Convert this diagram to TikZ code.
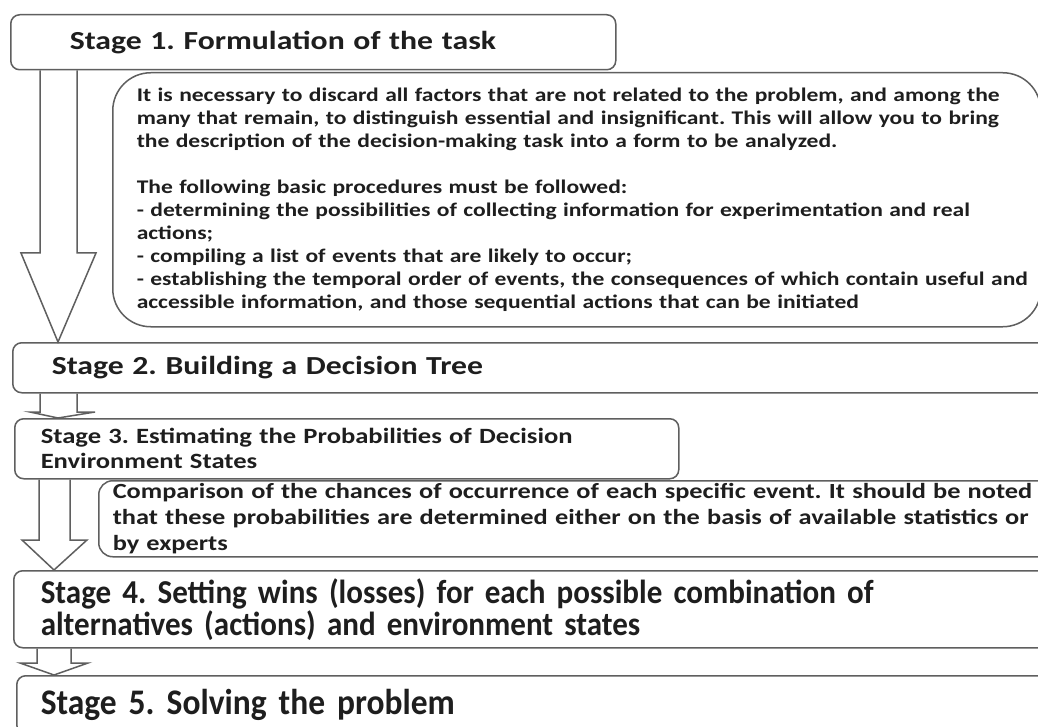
\documentclass[tikz,border=0pt]{standalone}
\usepackage{fontspec}
\setmainfont[FakeStretch=1.22]{Carlito}
\newfontfamily\plainfont[FakeStretch=0.93]{Carlito}
\usetikzlibrary{calc}
\definecolor{linegray}{HTML}{5F5F5F}
\definecolor{textdark}{HTML}{1E1E1E}
\newcommand{\setfs}[2]{\fontsize{#1}{#2}\selectfont\bfseries\frenchspacing}
\newcommand{\setpfs}[2]{\plainfont\fontsize{#1}{#2}\selectfont\bfseries\frenchspacing}
\begin{document}
\begin{tikzpicture}[x=1pt,y=-1pt,
  stagebox/.style={draw=linegray, line width=1.5, rounded corners=9, anchor=north west,
    inner sep=0pt, align=left, text=textdark},
  notebox/.style={stagebox},
  blockarrow/.style={draw=linegray, line width=1.5, line join=miter}]
\useasboundingbox[fill=white] (0,0) rectangle (1038,727);
\clip (0,0) rectangle (1038,727);

% Stage boxes and notes
\node[stagebox, minimum width=605, minimum height=55, text width=487, font=\setfs{26}{30}] (s1) at (10,14)
  {Stage 1. Formulation of the task};
\node[notebox, rounded corners=38, minimum width=928, minimum height=254, text width=880, font=\setfs{19.3}{23}] (d1) at (112,72)
  {\mbox{It is necessary to discard all factors that are not related to the problem, and among the}\\
   \mbox{many that remain, to distinguish essential and insignificant. This will allow you to bring}\\
   \mbox{the description of the decision-making task into a form to be analyzed.}\\[23pt]
   \mbox{The following basic procedures must be followed:}\\
   \mbox{- determining the possibilities of collecting information for experimentation and real}\\
   \mbox{actions;}\\
   \mbox{- compiling a list of events that are likely to occur;}\\
   \mbox{- establishing the temporal order of events, the consequences of which contain useful and}\\
   \mbox{accessible information, and those sequential actions that can be initiated}};
\node[stagebox, minimum width=1048, minimum height=50, text width=970, font=\setfs{26}{30}] (s2) at (12,342)
  {Stage 2. Building a Decision Tree};
\node[stagebox, minimum width=664, minimum height=60, text width=612, font=\setfs{21.8}{25}] (s3) at (14,418)
  {Stage 3. Estimating the Probabilities of Decision\\Environment States};
\node[notebox, rounded corners=14, minimum width=962, minimum height=76, text width=934, font=\setfs{21.6}{26}] (d2) at (98,480)
  {\mbox{Comparison of the chances of occurrence of each specific event. It should be noted}\\
   \mbox{that these probabilities are determined either on the basis of available statistics or}\\
   \mbox{by experts}};
\node[stagebox, minimum width=1047, minimum height=77, text width=993, font=\setpfs{33.4}{32}] (s4) at (13,570)
  {Stage 4. Setting wins (losses) for each possible combination of\\alternatives (actions) and environment states};
\node[stagebox, minimum width=1044, minimum height=58, text width=996, font=\setpfs{36}{38}] (s5) at (16,675)
  {Stage 5. Solving the problem};

% Block arrows between stages
\draw[blockarrow] (40,0 |- s1.south) -- (40,253) -- (21,253) -- (58,0 |- s2.north)
  -- (96,253) -- (77,253) -- (77,0 |- s1.south);
\draw[blockarrow] (40,0 |- s2.south) -- (40,412) -- (30,412) -- (58,0 |- s3.north)
  -- (95,412) -- (77,412) -- (77,0 |- s2.south);
\draw[blockarrow] (39,0 |- s3.south) -- (39,540) -- (22,540) -- (54,0 |- s4.north)
  -- (87,540) -- (70,540) -- (70,0 |- s3.south);
\draw[blockarrow] (37,0 |- s4.south) -- (37,663) -- (20,663) -- (54,0 |- s5.north)
  -- (88,663) -- (71,663) -- (71,0 |- s4.south);
\end{tikzpicture}
\end{document}
